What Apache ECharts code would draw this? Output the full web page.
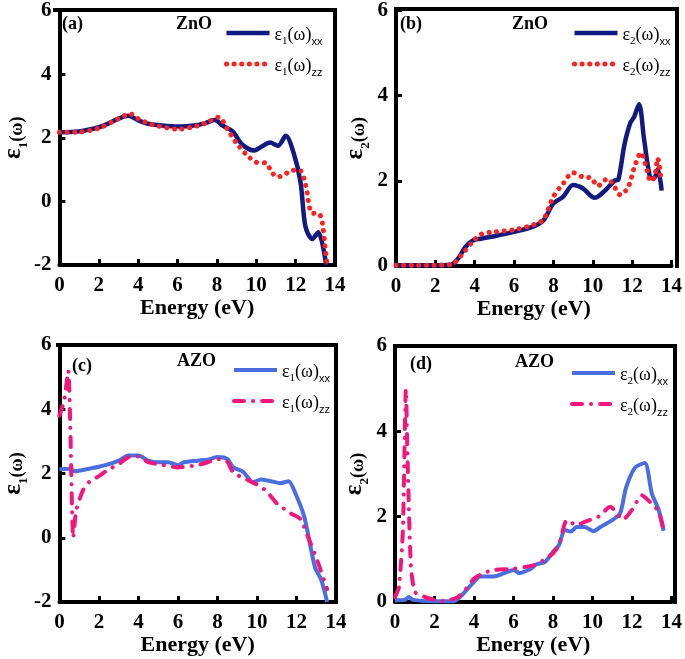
<!DOCTYPE html>
<html>
<head>
<meta charset="utf-8">
<script src="https://cdn.jsdelivr.net/npm/echarts@6/dist/echarts.min.js"></script>
<style>
  html, body { margin: 0; padding: 0; background: #fff; }
  #chart { width: 685px; height: 659px; }
</style>
</head>
<body>
<div id="chart"></div>
<script>
// energy ticks
var energyTicks = [0, 2, 4, 6, 8, 10, 12, 14];

// (a) ZnO eps1
var znoE1xxE = [0, 1, 2, 2.5, 3, 3.5, 4, 4.5, 5, 6, 7, 7.5, 7.9, 8.3, 8.8, 9.3, 9.9, 10.3, 10.7, 11.1, 11.5, 11.9, 12.25, 12.5, 12.85, 13.15, 13.55];
var znoE1xxV = [2.17, 2.2, 2.33, 2.45, 2.6, 2.69, 2.55, 2.44, 2.4, 2.35, 2.4, 2.48, 2.56, 2.38, 2.2, 1.78, 1.6, 1.73, 1.85, 1.75, 2.06, 1.52, 0.6, -0.8, -1.18, -0.97, -2.0];
var znoE1zzE = [0, 1, 2, 3, 3.6, 4, 4.5, 5, 6, 7, 7.5, 8.1, 8.5, 9, 9.5, 10, 10.5, 10.8, 11.1, 11.5, 11.8, 12.2, 12.5, 12.8, 13.2, 13.35, 13.5, 13.6];
var znoE1zzV = [2.17, 2.18, 2.3, 2.6, 2.75, 2.6, 2.46, 2.37, 2.27, 2.37, 2.48, 2.65, 2.3, 1.83, 1.47, 1.23, 1.2, 0.9, 0.77, 0.87, 0.98, 0.98, 0.53, -0.35, -0.4, -0.65, -1.45, -2.0];

// (b) ZnO eps2
var znoE2xxE = [0, 1, 2, 2.8, 3.2, 3.5, 3.9, 4.3, 5, 6, 7, 7.5, 8, 8.5, 9, 9.5, 10.1, 10.6, 11.1, 11.3, 11.6, 11.9, 12.1, 12.35, 12.6, 12.9, 13.1, 13.3, 13.5];
var znoE2xxV = [0.02, 0.02, 0.02, 0.03, 0.2, 0.43, 0.6, 0.64, 0.7, 0.8, 0.93, 1.08, 1.47, 1.63, 1.9, 1.82, 1.6, 1.76, 2.0, 2.03, 2.83, 3.35, 3.5, 3.8, 3.0, 2.1, 2.05, 2.27, 1.77];
var znoE2zzE = [0, 1, 2, 2.8, 3.0, 3.5, 3.9, 4.3, 5, 6, 7, 7.5, 8, 8.5, 9, 9.5, 9.9, 10.25, 10.75, 11.0, 11.4, 11.8, 12.1, 12.45, 12.7, 12.95, 13.15, 13.3, 13.45];
var znoE2zzV = [0.02, 0.02, 0.02, 0.03, 0.08, 0.35, 0.57, 0.74, 0.8, 0.85, 0.97, 1.1, 1.63, 1.94, 2.19, 2.09, 2.07, 1.88, 2.05, 1.94, 1.67, 1.85, 2.3, 2.66, 2.35, 1.99, 2.1, 2.53, 2.1];

// (c) AZO eps1
var azoE1xxE = [0, 0.5, 0.8, 1.5, 2, 2.5, 3, 3.5, 4, 4.5, 5, 5.5, 6, 6.3, 7, 7.5, 8, 8.5, 8.8, 9.3, 9.8, 10.2, 10.7, 11.2, 11.6, 12.0, 12.4, 12.75, 12.95, 13.25, 13.55];
var azoE1xxV = [2.13, 2.15, 2.07, 2.15, 2.21, 2.29, 2.4, 2.56, 2.56, 2.4, 2.35, 2.35, 2.26, 2.35, 2.4, 2.43, 2.51, 2.45, 2.19, 2.05, 1.73, 1.81, 1.76, 1.7, 1.76, 1.3, 0.64, -0.4, -0.95, -1.3, -2.0];
var azoE1zzE = [0, 0.25, 0.45, 0.55, 0.7, 0.85, 1.2, 1.5, 2, 2.5, 3, 3.5, 4, 4.5, 5, 6, 7, 7.5, 8, 8.5, 8.8, 9.5, 10, 10.5, 11, 11.7, 12.2, 12.6, 13.0, 13.55];
var azoE1zzV = [3.8, 4.3, 5.2, 3.5, 0.0, 0.85, 1.49, 1.73, 1.92, 2.13, 2.29, 2.51, 2.53, 2.35, 2.29, 2.19, 2.26, 2.35, 2.45, 2.37, 2.03, 1.81, 1.65, 1.44, 1.07, 0.76, 0.58, 0.0, -0.62, -1.6];

// (d) AZO eps2
var azoE2xxE = [0, 0.5, 0.7, 0.9, 2, 3, 3.3, 3.6, 4, 4.3, 5, 5.5, 6, 6.3, 6.8, 7.2, 7.6, 8, 8.3, 8.6, 8.9, 9.2, 9.6, 10.05, 10.4, 11, 11.4, 11.7, 12.15, 12.65, 13.0, 13.35, 13.6];
var azoE2xxV = [0.04, 0.05, 0.12, 0.05, 0.02, 0.02, 0.12, 0.27, 0.47, 0.6, 0.6, 0.67, 0.75, 0.68, 0.76, 0.89, 0.94, 1.18, 1.33, 1.69, 1.65, 1.76, 1.76, 1.66, 1.76, 1.92, 2.08, 2.68, 3.15, 3.26, 2.55, 2.16, 1.67];
var azoE2zzE = [0, 0.2, 0.4, 0.55, 0.65, 0.8, 1.0, 1.5, 2, 2.5, 3.2, 3.6, 4, 4.5, 5, 6, 7, 7.6, 8, 8.3, 8.7, 9.2, 9.6, 10.3, 10.9, 11.55, 12.0, 12.5, 13.05, 13.35, 13.6];
var azoE2zzV = [0.12, 0.35, 1.69, 4.98, 3.1, 0.9, 0.24, 0.12, 0.05, 0.02, 0.12, 0.31, 0.55, 0.68, 0.75, 0.78, 0.86, 1.0, 1.14, 1.33, 1.92, 1.8, 1.88, 2.0, 2.23, 1.93, 2.16, 2.5, 2.28, 2.12, 1.7];

var serif = '"Liberation Serif", "DejaVu Serif", serif';
var sans = '"Liberation Sans", Arial, sans-serif';
var navy = '#111a80', red = '#ff2020', blue = '#4a6de0', pink = '#f2177c';

function pairs(xs, ys) {
    return xs.map(function (x, i) { return [x, ys[i]]; });
}

var legendNames = {
    a_xx: '{e|ε}{s|1}{e|(ω)}{t|xx}', a_zz: '{e|ε}{s|1}{e|(ω)}{t|zz}',
    b_xx: '{e|ε}{s|2}{e|(ω)}{t|xx}', b_zz: '{e|ε}{s|2}{e|(ω)}{t|zz}',
    c_xx: '{e|ε}{s|1}{e|(ω)}{t|xx}', c_zz: '{e|ε}{s|1}{e|(ω)}{t|zz}',
    d_xx: '{e|ε}{s|2}{e|(ω)}{t|xx}', d_zz: '{e|ε}{s|2}{e|(ω)}{t|zz}'
};

var legendRich = {
    e: { fontFamily: serif, fontSize: 18, color: '#000', lineHeight: 22, verticalAlign: 'bottom' },
    s: { fontFamily: serif, fontSize: 11, color: '#000', lineHeight: 22, verticalAlign: 'bottom', padding: [0, 0, -3, 0] },
    t: { fontFamily: sans, fontSize: 11, color: '#000', lineHeight: 22, verticalAlign: 'bottom', padding: [0, 0, -3, 0] }
};

var grids = [
    { left: 55, top: 10, width: 280, height: 255 },
    { left: 396, top: 9, width: 281, height: 257 },
    { left: 58, top: 345, width: 278, height: 257 },
    { left: 395, top: 346, width: 280, height: 256 }
];

function makeX(i) {
    return {
        type: 'value', gridIndex: i, min: 0, max: 14, interval: 2,
        name: 'Energy (eV)', nameLocation: 'middle', nameGap: 27,
        nameTextStyle: { fontFamily: serif, fontWeight: 'bold', fontSize: 22, color: '#000' },
        axisLine: { onZero: false, lineStyle: { color: '#000', width: 4 } },
        axisTick: { inside: true, length: 6, lineStyle: { color: '#000', width: 3 } },
        axisLabel: { margin: 10, fontFamily: serif, fontWeight: 'bold', fontSize: 21, color: '#000' },
        splitLine: { show: false }
    };
}

function makeY(i, min, max, sub) {
    return {
        type: 'value', gridIndex: i, min: min, max: max, interval: 2,
        name: '{e|ε}{s|' + sub + '}{w|(ω)}', nameLocation: 'middle', nameGap: 28, nameRotate: 90,
        nameTextStyle: {
            rich: {
                e: { fontFamily: serif, fontWeight: 'bold', fontSize: 25, color: '#000', lineHeight: 28, verticalAlign: 'bottom' },
                s: { fontFamily: serif, fontWeight: 'bold', fontSize: 13, color: '#000', lineHeight: 28, verticalAlign: 'bottom', padding: [0, 0, -4, 0] },
                w: { fontFamily: serif, fontWeight: 'bold', fontSize: 18, color: '#000', lineHeight: 28, verticalAlign: 'bottom' }
            }
        },
        axisLine: { onZero: false, lineStyle: { color: '#000', width: 4 } },
        axisTick: { inside: true, length: 6, lineStyle: { color: '#000', width: 3 } },
        axisLabel: { margin: 8, fontFamily: serif, fontWeight: 'bold', fontSize: 21, color: '#000' },
        splitLine: { show: false }
    };
}

function line(name, idx, data, color, style, width, smooth) {
    var ls = { color: color, width: width };
    if (style === 'dot') { ls.type = [0.1, 7.5]; ls.cap = 'round'; }
    if (style === 'dashdot') { ls.type = [10, 9, 0.1, 9]; ls.cap = 'round'; }
    return {
        name: name, type: 'line', xAxisIndex: idx, yAxisIndex: idx,
        data: data, symbol: 'none', smooth: smooth, color: color,
        lineStyle: ls
    };
}

function legend(names, left, top) {
    return {
        data: names, orient: 'vertical', left: left, top: top,
        itemWidth: 43, itemHeight: 12, itemGap: 10,
        itemStyle: { opacity: 0 },
        lineStyle: { width: 'inherit' },
        formatter: function (n) { return legendNames[n]; },
        textStyle: { rich: legendRich }
    };
}

function tag(text, x, y) {
    return {
        type: 'text', left: x, top: y,
        style: { text: text, fontFamily: serif, fontWeight: 'bold', fontSize: 18, fill: '#000' }
    };
}

// top and right edges of each plot box, taken from the grid layout
function edge(x1, y1, x2, y2) {
    return {
        type: 'line', z: 50, silent: true,
        shape: { x1: x1, y1: y1, x2: x2, y2: y2 },
        style: { stroke: '#000', lineWidth: 4, lineCap: 'square' }
    };
}
function frame(g) {
    var r = g.left + g.width, b = g.top + g.height;
    return [edge(g.left, g.top, r, g.top), edge(r, g.top, r, b)];
}

var myChart = echarts.init(document.getElementById('chart'), null, { renderer: 'canvas' });

var frames = [];
grids.forEach(function (g) { frames = frames.concat(frame(g)); });

var option = {
    animation: false,
    backgroundColor: '#fff',
    grid: grids,
    xAxis: [makeX(0), makeX(1), makeX(2), makeX(3)],
    yAxis: [makeY(0, -2, 6, '1'), makeY(1, 0, 6, '2'), makeY(2, -2, 6, '1'), makeY(3, 0, 6, '2')],
    legend: [
        legend(['a_xx', 'a_zz'], 219, 21),
        legend(['b_xx', 'b_zz'], 567, 21),
        legend(['c_xx', 'c_zz'], 227, 358),
        legend(['d_xx', 'd_zz'], 565, 361)
    ],
    graphic: frames.concat([
        tag('(a)', 62, 15), tag('ZnO', 176, 15),
        tag('(b)', 400, 15), tag('ZnO', 512, 15),
        tag('(c)', 72, 357), tag('AZO', 177, 352),
        tag('(d)', 410, 355), tag('AZO', 515, 353)
    ]),
    series: [
        line('a_xx', 0, pairs(znoE1xxE, znoE1xxV), navy, 'solid', 4.5, 0.3),
        line('a_zz', 0, pairs(znoE1zzE, znoE1zzV), red, 'dot', 5, 0.3),
        line('b_xx', 1, pairs(znoE2xxE, znoE2xxV), navy, 'solid', 4.5, 0.3),
        line('b_zz', 1, pairs(znoE2zzE, znoE2zzV), red, 'dot', 5, 0.3),
        line('c_xx', 2, pairs(azoE1xxE, azoE1xxV), blue, 'solid', 4, 0.25),
        line('c_zz', 2, pairs(azoE1zzE, azoE1zzV), pink, 'dashdot', 4, 0.2),
        line('d_xx', 3, pairs(azoE2xxE, azoE2xxV), blue, 'solid', 4, 0.25),
        line('d_zz', 3, pairs(azoE2zzE, azoE2zzV), pink, 'dashdot', 4, 0.2)
    ]
};

myChart.setOption(option);
</script>
</body>
</html>
